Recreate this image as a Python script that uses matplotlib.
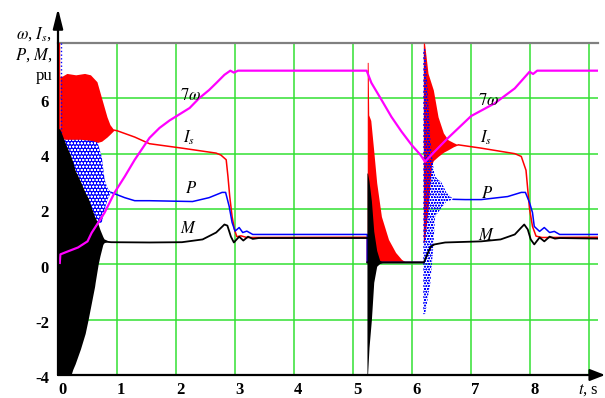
import matplotlib
matplotlib.use("Agg")
import matplotlib.pyplot as plt
import numpy as np

plt.rcParams['mathtext.fontset'] = 'stix'
plt.rcParams['font.family'] = ['Liberation Serif', 'DejaVu Serif']
plt.rcParams['hatch.linewidth'] = 0.5

# ---------------- data ----------------
x_ticks = [0, 1, 2, 3, 4, 5, 6, 7, 8]
y_ticks = [-4, -2, 0, 2, 4, 6]
grid_x = [1, 2, 3, 4, 5, 6, 7, 8, 9]
grid_y = [-2, 0, 2, 4, 6]

# 7*omega (magenta)
w_t = [0.03, 0.04, 0.17, 0.34, 0.5, 0.57, 0.68, 0.79, 0.96, 1.13, 1.3, 1.55, 1.72, 1.89,
       2.23, 2.39, 2.56, 2.68, 2.82, 2.92, 2.98, 3.05, 5.23, 5.31, 5.48, 5.65, 5.82, 5.99,
       6.14, 6.22, 6.36, 6.61, 7.0, 7.4, 7.74, 7.99, 8.05, 8.12, 9.15]
w_y = [0.05, 0.36, 0.47, 0.61, 0.83, 1.14, 1.5, 1.87, 2.6, 3.17, 3.78, 4.57, 4.93, 5.2,
       5.65, 6.0, 6.3, 6.55, 6.85, 7.0, 6.93, 7.0, 7.0, 6.56, 5.95, 5.33, 4.8, 4.32,
       3.96, 3.71, 4.03, 4.57, 5.36, 5.82, 6.36, 6.96, 6.88, 7.0, 7.0]

# stator current Is (red) - smooth parts
is1_t = [0.95, 1.0, 1.3, 1.55, 2.1, 2.68, 2.76, 2.85, 2.88, 2.91, 2.95, 2.99, 3.03, 3.1,
         3.2, 5.24, 5.24, 6.2]
is1_y = [4.85, 4.83, 4.6, 4.36, 4.2, 4.02, 3.95, 3.78, 3.17, 2.45, 1.73, 1.26, 1.0, 1.03,
         0.97, 0.98, 0.07, 0.07]
is2_t = [6.78, 7.17, 7.74, 7.85, 7.93, 7.96, 7.99, 8.04, 8.1, 8.2, 9.15]
is2_y = [4.32, 4.2, 4.0, 3.9, 3.4, 2.7, 2.0, 1.37, 1.02, 0.97, 0.98]
# Is oscillation envelopes
isb1_t = [0.03, 0.07, 0.15, 0.3, 0.45, 0.55, 0.66, 0.74, 0.83, 0.88, 0.95]
isb1_hi = [6.8, 6.8, 6.9, 6.85, 6.9, 6.85, 6.6, 6.0, 5.33, 5.05, 4.85]
isb1_lo = [4.5, 4.55, 4.5, 4.5, 4.45, 4.4, 4.4, 4.45, 4.6, 4.7, 4.85]
isb2_t = [5.24, 5.255, 5.265, 5.3, 5.35, 5.4, 5.48, 5.6, 5.72, 5.82, 5.9]
isb2_hi = [7.3, 7.3, 5.4, 5.2, 4.1, 2.95, 1.73, 0.9, 0.43, 0.18, 0.07]
isb2_lo = [0.07, 0.07, 0.07, 0.07, 0.07, 0.07, 0.07, 0.07, 0.07, 0.07, 0.07]
isb3_t = [6.19, 6.21, 6.27, 6.33, 6.36, 6.44, 6.53, 6.61, 6.7, 6.78]
isb3_hi = [8.0, 8.0, 6.9, 6.5, 6.3, 5.33, 4.75, 4.5, 4.4, 4.32]
isb3_lo = [0.8, 0.8, 2.0, 3.6, 3.75, 3.9, 4.05, 4.14, 4.25, 4.32]

# power P (blue)
p1_t = [0.9, 1.13, 1.3, 1.55, 2.28, 2.56, 2.78, 2.84, 2.9, 2.95, 3.0, 3.07, 3.13, 3.2,
        3.3, 5.24, 5.24, 6.2]
p1_y = [2.6, 2.41, 2.3, 2.3, 2.27, 2.41, 2.6, 2.6, 2.1, 1.51, 1.2, 1.33, 1.15, 1.2,
        1.08, 1.08, 0.07, 0.07]
p2_t = [6.7, 6.9, 7.17, 7.62, 7.85, 7.92, 7.99, 8.04, 8.07, 8.16, 8.24, 8.33, 8.41, 8.5, 9.15]
p2_y = [2.35, 2.34, 2.34, 2.45, 2.6, 2.6, 2.23, 1.87, 1.37, 1.19, 1.33, 1.15, 1.19, 1.08, 1.08]
pb1_t = [0.03, 0.1, 0.2, 0.4, 0.6, 0.67, 0.74, 0.79, 0.84, 0.9]
pb1_hi = [4.6, 4.5, 4.5, 4.5, 4.45, 4.4, 3.9, 3.06, 2.75, 2.6]
pb1_lo = [2.0, 2.0, 1.8, 1.6, 1.5, 1.5, 1.5, 1.98, 2.35, 2.6]
pb3_t = [6.19, 6.22, 6.26, 6.31, 6.36, 6.39, 6.5, 6.58, 6.7]
pb3_hi = [7.8, 7.8, 6.5, 4.5, 3.5, 3.17, 2.95, 2.6, 2.35]
pb3_lo = [-1.8, -1.8, -1.3, -0.65, 0.65, 1.73, 2.05, 2.27, 2.35]

# torque M (black)
m1_t = [0.8, 0.9, 1.55, 2.1, 2.45, 2.68, 2.82, 2.87, 2.93, 2.98, 3.07, 3.14, 3.22, 3.3,
        3.4, 5.24]
m1_y = [0.82, 0.8, 0.79, 0.8, 0.9, 1.15, 1.44, 1.4, 1.0, 0.79, 1.0, 0.86, 1.0, 0.92,
        0.95, 0.95]
m2_t = [5.24, 5.45, 6.2, 6.27, 6.32, 6.38, 6.56, 7.17, 7.5, 7.74, 7.85, 7.9, 7.96, 8.01,
        8.07, 8.16, 8.24, 8.33, 8.42, 8.5, 9.15]
m2_y = [0.07, 0.07, 0.07, 0.43, 0.65, 0.72, 0.79, 0.83, 0.9, 1.08, 1.33, 1.44, 1.26, 0.9,
        0.72, 0.97, 0.83, 1.0, 0.93, 0.95, 0.93]
mb1_t = [0.0, 0.03, 0.13, 0.22, 0.25, 0.29, 0.38, 0.46, 0.51, 0.62, 0.63, 0.68, 0.71,
         0.76, 0.78, 0.85]
mb1_hi = [4.9, 4.9, 4.35, 3.9, 3.7, 3.4, 3.0, 2.6, 2.4, 1.73, 1.7, 1.45, 1.26, 1.0, 0.92, 0.85]
mb1_lo = [-4, -4, -4, -4, -3.8, -3.6, -3.06, -2.5, -2.0, -0.8, -0.65, 0.0, 0.3, 0.72, 0.78, 0.85]
mb2_t = [5.235, 5.245, 5.27, 5.31, 5.35, 5.4, 5.45, 5.5]
mb2_hi = [3.3, 3.3, 3.0, 2.3, 1.2, 0.5, 0.15, 0.07]
mb2_lo = [-4, -4, -3.0, -2.0, -0.65, -0.07, 0.03, 0.07]

# ---------------- figure ----------------
W, H = 605, 398
fig = plt.figure(figsize=(W / 100, H / 100), dpi=100)
x0, y0, xr, yb = 58, 43, 598, 375
ax = fig.add_axes([x0 / W, (H - yb) / H, (xr - x0) / W, (yb - y0) / H])
ax.set_xlim(0, 9.15)
ax.set_ylim(-4, 8)
for s in ax.spines.values():
    s.set_visible(False)
ax.set_xticks([])
ax.set_yticks([])

gcol = '#33e033'
for gx in grid_x:
    ax.axvline(gx, color=gcol, lw=1.1, zorder=0)
for gy in grid_y:
    ax.axhline(gy, color=gcol, lw=1.1, zorder=0)
ax.axhline(8, color='#808080', lw=1.6, zorder=1, clip_on=False)

RED, BLUE, MAG = '#ff0000', '#0000ff', '#ff00ff'

# red Is
ax.fill_between(isb1_t, isb1_lo, isb1_hi, color=RED, lw=0, zorder=2)
ax.fill_between(isb2_t, isb2_lo, isb2_hi, color=RED, lw=0, zorder=2)
ax.fill_between(isb3_t, isb3_lo, isb3_hi, color=RED, lw=0, zorder=2)
ax.plot(is1_t, is1_y, color=RED, lw=1.1, zorder=2)
ax.plot(is2_t, is2_y, color=RED, lw=1.1, zorder=2)
ax.plot([0.02, 0.02], [4.0, 8.0], color=RED, lw=1.0, zorder=2)

# blue P
ax.fill_between(pb1_t, pb1_lo, pb1_hi, facecolor=BLUE, edgecolor='white', hatch='ooooo',
                lw=0, zorder=3)
ax.fill_between(pb3_t, pb3_lo, pb3_hi, facecolor='none', edgecolor=BLUE, hatch='oooooo',
                lw=0, zorder=3)
ax.plot(p1_t, p1_y, color=BLUE, lw=1.1, zorder=3)
ax.plot(p2_t, p2_y, color=BLUE, lw=1.1, zorder=3)
ax.plot([0.05, 0.05], [4.5, 8.0], color=BLUE, lw=1.0, ls=':', zorder=3)

# black M
ax.fill_between(mb1_t, mb1_lo, mb1_hi, color='black', lw=0, zorder=4)
ax.fill_between(mb2_t, mb2_lo, mb2_hi, color='black', lw=0, zorder=4)
ax.plot(m1_t, m1_y, color='black', lw=1.3, zorder=4)
ax.plot(m2_t, m2_y, color='black', lw=1.3, zorder=4)

# magenta 7w
ax.plot(w_t, w_y, color=MAG, lw=1.6, zorder=5)

# axes arrows
ax.annotate('', xy=(9.27, -4), xytext=(0, -4), annotation_clip=False,
            arrowprops=dict(arrowstyle='-|>,head_length=0.9,head_width=0.35', lw=1.6,
                            color='black', shrinkA=0, shrinkB=0, mutation_scale=10),
            zorder=6)
ax.annotate('', xy=(0, 9.25), xytext=(0, -4), annotation_clip=False,
            arrowprops=dict(arrowstyle='-|>,head_length=1.2,head_width=0.3', lw=1.6,
                            color='black', shrinkA=0, shrinkB=0, mutation_scale=10),
            zorder=6)

# tick labels
for t in x_ticks:
    ax.annotate(str(t), (t, -4), xytext=(3, -14), textcoords='offset points',
                ha='center', va='baseline', fontsize=12, fontweight='bold',
                annotation_clip=False)
for v in y_ticks:
    ax.annotate(str(v), (0, v), xytext=(-6.5, -6), textcoords='offset points',
                ha='right', va='baseline', fontsize=12, fontweight='bold',
                annotation_clip=False)

# axis labels
def ftext(px, py, s, **kw):
    fig.text(px / W, 1 - py / H, s, **kw)

ftext(52, 39, r'$\omega$, $I_s$,', ha='right', va='baseline', fontsize=12)
ftext(52, 60, r'$P$, $M$,', ha='right', va='baseline', fontsize=12)
ftext(52, 80, 'pu', ha='right', va='baseline', fontsize=12)
ftext(578, 394, r'$t$, s', ha='left', va='baseline', fontsize=12)

# curve labels
def dtext(px, py, s):
    ax.text((px - x0) / 59.0, (264.3 - py) / 27.67, s, ha='left', va='baseline',
            fontsize=12, zorder=7)

dtext(180, 100, r'$7\omega$')
dtext(478, 105, r'$7\omega$')
dtext(183, 143, r'$I_s$')
dtext(480, 143, r'$I_s$')
dtext(185, 193, r'$P$')
dtext(481, 198, r'$P$')
dtext(180, 233, r'$M$')
dtext(478, 240, r'$M$')

fig.savefig('out.png', dpi=100)
